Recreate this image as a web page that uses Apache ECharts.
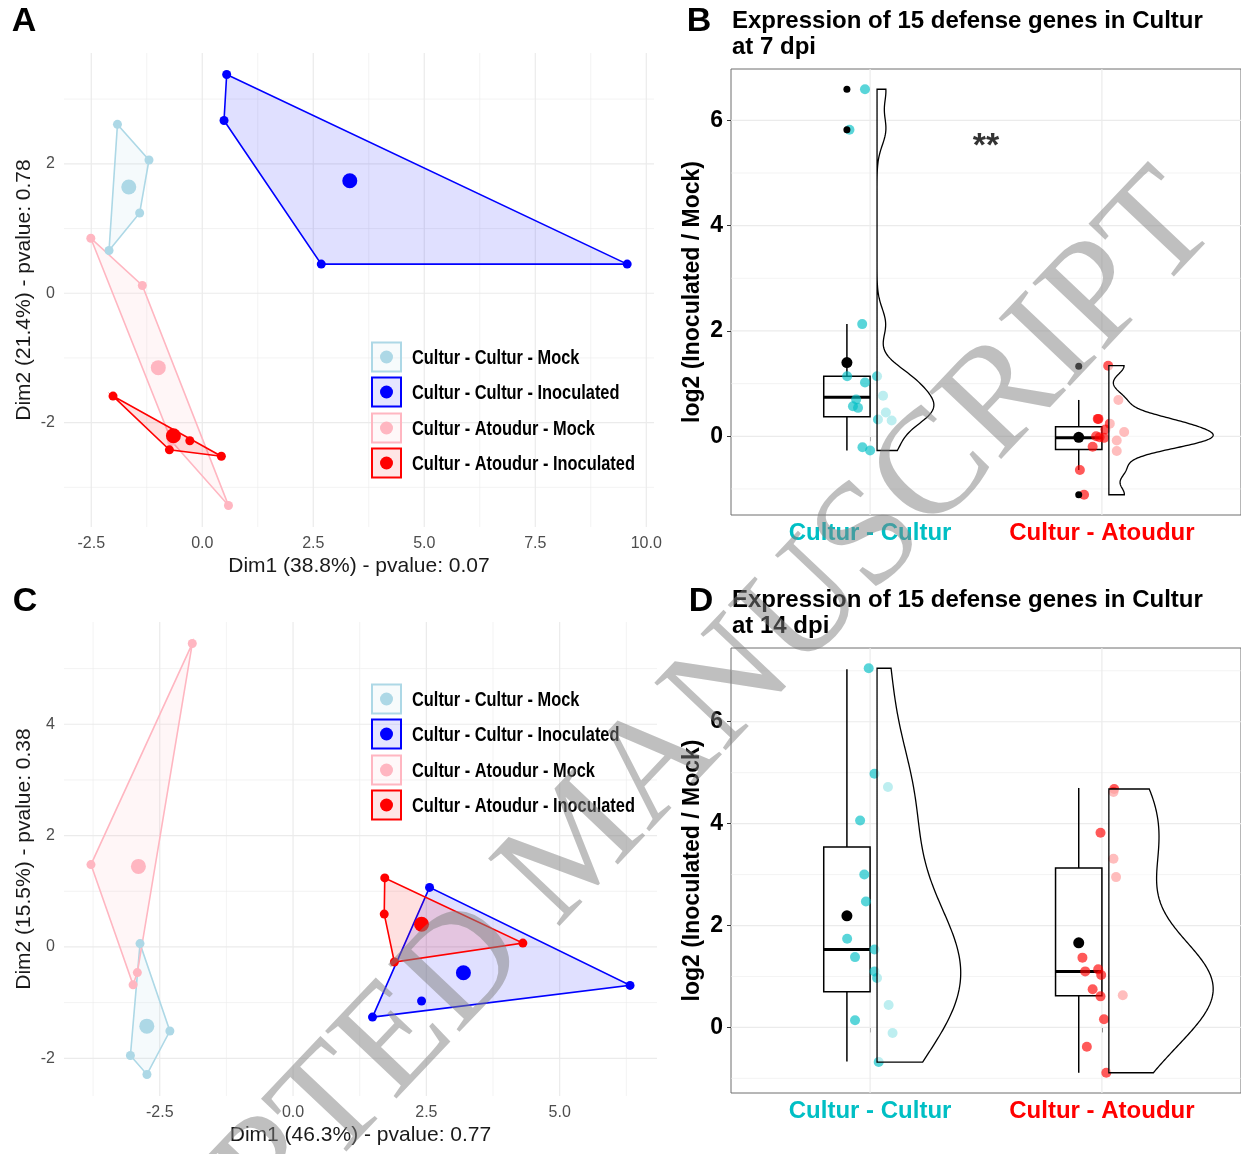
<!DOCTYPE html>
<html><head><meta charset="utf-8">
<script src="https://cdn.jsdelivr.net/npm/echarts@6/dist/echarts.min.js"></script>
<style>html,body{margin:0;padding:0;background:#fff}#main{width:1241px;height:1154px}</style>
</head><body><div id="main"></div>
<script>
// ================= DATA =================
const groupNames = ['Cultur - Cultur - Mock','Cultur - Cultur - Inoculated','Cultur - Atoudur - Mock','Cultur - Atoudur - Inoculated'];
const groupColors = ['#ADD8E6','#0000FF','#FFB6C1','#FF0000'];

// Panel A : PCA 7 dpi, [Dim1, Dim2]
const pcaA_ccMock = [[-1.91,2.61],[-1.20,2.06],[-1.41,1.24],[-2.10,0.66]];
const pcaA_ccInoc = [[0.55,3.38],[0.49,2.67],[2.68,0.45],[9.57,0.45]];
const pcaA_caMock = [[-2.51,0.85],[-1.35,0.12],[0.59,-3.28],[-0.69,-2.29]];
const pcaA_caInoc = [[-2.01,-1.59],[-0.28,-2.28],[0.43,-2.52],[-0.74,-2.42]];
const axisTitlesA = ['Dim1 (38.8%) - pvalue: 0.07','Dim2 (21.4%) - pvalue: 0.78'];
const xTicksA = [-2.5,0,2.5,5,7.5,10];
const yTicksA = [-2,0,2];

// Panel C : PCA 14 dpi
const pcaC_ccMock = [[-2.87,0.06],[-2.31,-1.51],[-2.74,-2.29],[-3.05,-1.95]];
const pcaC_ccInoc = [[2.56,1.07],[6.32,-0.69],[1.49,-1.26],[2.41,-0.97]];
const pcaC_caMock = [[-1.89,5.45],[-3.79,1.48],[-3.00,-0.68],[-2.92,-0.46]];
const pcaC_caInoc = [[1.72,1.24],[1.71,0.59],[1.90,-0.27],[4.31,0.07]];
const axisTitlesC = ['Dim1 (46.3%) - pvalue: 0.77','Dim2 (15.5%) - pvalue: 0.38'];
const xTicksC = [-2.5,0,2.5,5];
const yTicksC = [-2,0,2,4];

// Panels B / D : log2 (Inoculated / Mock), 15 genes per group
const rainCategories = ['Cultur - Cultur','Cultur - Atoudur'];
const rainColors = ['#00BFC4','#FF0000'];
const b7_cc = [6.59,5.82,2.13,1.14,1.02,1.14,0.77,0.57,0.54,0.45,0.32,0.30,-0.21,-0.27,0.70];
const b7_cc_jitter = [-0.022,-0.089,-0.034,-0.099,-0.022,0.030,0.056,-0.074,-0.052,0.068,0.034,0.093,-0.033,0.0,-0.06];
const b7_ca = [1.34,0.69,0.33,0.24,0.13,0.08,0.0,-0.03,-0.08,-0.20,-0.28,-0.64,-1.11,-0.02,0.33];
const b7_ca_jitter = [0.027,0.071,-0.018,0.034,0.015,0.096,-0.025,0.009,0.064,-0.04,0.064,-0.095,-0.077,-0.01,-0.015];
const boxB = [[-0.27,0.37,0.74,1.14,2.13],[-0.64,-0.25,-0.03,0.18,0.69]]; // low, q1, median, q3, high
const meansB = [1.40,-0.02];
const outliersB = [[1,6.59],[1,5.82],[2,1.33],[2,-1.11]];
const signifB = [[1.5,5.50,'**']];
const titleB = ['Expression of 15 defense genes in Cultur','at 7 dpi'];

const d14_cc = [7.05,4.98,4.72,4.06,3.00,2.47,1.74,1.38,1.53,1.10,0.97,0.44,0.14,-0.11,-0.68];
const d14_cc_jitter = [-0.006,0.019,0.077,-0.043,-0.025,-0.018,-0.099,-0.065,0.019,0.019,0.030,0.080,-0.065,0.097,0.037];
const d14_ca = [4.68,4.62,3.82,3.31,2.95,1.37,1.10,1.14,1.03,0.75,0.61,0.63,0.16,-0.38,-0.89];
const d14_ca_jitter = [0.053,0.05,-0.006,0.05,0.061,-0.084,-0.072,-0.016,-0.003,-0.04,-0.006,0.09,0.009,-0.065,0.019];
const boxD = [[-0.67,0.70,1.53,3.54,7.03],[-0.89,0.62,1.10,3.13,4.70]];
const meansD = [2.19,1.66];
const outliersD = [];
const titleD = ['Expression of 15 defense genes in Cultur','at 14 dpi'];
const yTitleRain = 'log2 (Inoculated / Mock)';
const yTicksRain = [0,2,4,6];
const panelLetters = ['A','B','C','D'];
const watermark = 'ACCEPTED MANUSCRIPT';

// ================= HELPERS =================
function expand(vals){const mn=Math.min(...vals),mx=Math.max(...vals),d=(mx-mn)*0.05;return [mn-d,mx+d];}
function rgba(hex,a){const n=parseInt(hex.slice(1),16);return `rgba(${n>>16&255},${n>>8&255},${n&255},${a})`;}
function hull(pts){
  const p=pts.slice().sort((a,b)=>a[0]-b[0]||a[1]-b[1]);
  const cross=(o,a,b)=>(a[0]-o[0])*(b[1]-o[1])-(a[1]-o[1])*(b[0]-o[0]);
  const lo=[],up=[];
  for(const q of p){while(lo.length>=2&&cross(lo[lo.length-2],lo[lo.length-1],q)<=0)lo.pop();lo.push(q);}
  for(let i=p.length-1;i>=0;i--){const q=p[i];while(up.length>=2&&cross(up[up.length-2],up[up.length-1],q)<=0)up.pop();up.push(q);}
  up.pop();lo.pop();return lo.concat(up);
}
function centroid(pts){return [pts.reduce((s,p)=>s+p[0],0)/pts.length, pts.reduce((s,p)=>s+p[1],0)/pts.length];}
function quant(sorted,q){const h=(sorted.length-1)*q,l=Math.floor(h);return sorted[l]+(h-l)*((sorted[Math.min(l+1,sorted.length-1)])-sorted[l]);}
function kde(vals){
  const n=vals.length,m=vals.reduce((a,b)=>a+b,0)/n;
  const sd=Math.sqrt(vals.reduce((s,v)=>s+(v-m)*(v-m),0)/(n-1));
  const s=vals.slice().sort((a,b)=>a-b);
  const iqr=quant(s,0.75)-quant(s,0.25);
  const bw=0.9*Math.min(sd,iqr/1.34)*Math.pow(n,-0.2);
  const lo=s[0],hi=s[n-1],N=200,out=[];
  for(let i=0;i<=N;i++){const y=lo+(hi-lo)*i/N;let d=0;for(const v of vals){const z=(y-v)/bw;d+=Math.exp(-0.5*z*z);}out.push([y,d/(n*bw*Math.sqrt(2*Math.PI))]);}
  return out;
}

// ================= LAYOUT =================
const grids = [
  {left:64, top:53, width:590, height:474},
  {left:731, top:69, width:512, height:446, show:true, borderColor:'#6e6e6e', borderWidth:1, backgroundColor:'transparent'},
  {left:64, top:622, width:593, height:474},
  {left:731, top:648, width:512, height:445, show:true, borderColor:'#6e6e6e', borderWidth:1, backgroundColor:'transparent'}
];

const pcaA = [pcaA_ccMock,pcaA_ccInoc,pcaA_caMock,pcaA_caInoc];
const pcaC = [pcaC_ccMock,pcaC_ccInoc,pcaC_caMock,pcaC_caInoc];
const allA = pcaA.flat(), allC = pcaC.flat();
const xrA = expand(allA.map(p=>p[0])), yrA = expand(allA.map(p=>p[1]));
const xrC = expand(allC.map(p=>p[0])), yrC = expand(allC.map(p=>p[1]));
const yrB = expand(b7_cc.concat(b7_ca)), yrD = expand(d14_cc.concat(d14_ca));
const xrR = [0.4,2.6];

function pcaX(gi, xr, ticks, title){
  return {gridIndex:gi,type:'value',min:xr[0],max:xr[1],axisLine:{show:false},axisTick:{show:false},splitLine:{show:false},
    axisLabel:{customValues:ticks,formatter:v=>Number(v).toFixed(1),color:'#4d4d4d',fontSize:16,margin:9},
    name:title,nameLocation:'middle',nameGap:29,nameTextStyle:{fontSize:21,color:'#1a1a1a'}};
}
function pcaY(gi, yr, ticks, title){
  return {gridIndex:gi,type:'value',min:yr[0],max:yr[1],axisLine:{show:false},axisTick:{show:false},splitLine:{show:false},
    axisLabel:{customValues:ticks,formatter:v=>String(Math.round(v)),color:'#4d4d4d',fontSize:16,margin:9},
    name:title,nameLocation:'middle',nameGap:29,nameRotate:90,nameTextStyle:{fontSize:21,color:'#1a1a1a'}};
}
function rainX(gi, margin){
  return {gridIndex:gi,type:'value',min:xrR[0],max:xrR[1],axisLine:{show:false},splitLine:{show:false},
    axisTick:{show:true,customValues:[1,2],length:5,lineStyle:{color:'#333'}},
    axisLabel:{customValues:[1,2],margin:margin,formatter:v=>{const i=Math.round(v)-1;return '{c'+i+'|'+rainCategories[i]+'}';},
      rich:{c0:{color:rainColors[0],fontSize:24,fontWeight:'bold'},c1:{color:rainColors[1],fontSize:24,fontWeight:'bold'}}}};
}
function rainY(gi, yr){
  return {gridIndex:gi,type:'value',min:yr[0],max:yr[1],axisLine:{show:false},splitLine:{show:false},
    axisTick:{show:true,customValues:yTicksRain,length:4,lineStyle:{color:'#333'}},
    axisLabel:{customValues:yTicksRain,formatter:v=>String(Math.round(v)),color:'#000',fontSize:23,fontWeight:'bold',margin:8},
    name:yTitleRain,nameLocation:'middle',nameGap:27,nameRotate:90,nameTextStyle:{fontSize:23,fontWeight:'bold',color:'#000'}};
}

// grid line custom series
function gridLineSeries(gi, xr, yr, xMaj, xMin, yMaj, yMin){
  const lines=[];
  xMin.forEach(v=>lines.push([0,v,0]));yMin.forEach(v=>lines.push([1,v,0]));
  xMaj.forEach(v=>lines.push([0,v,1]));yMaj.forEach(v=>lines.push([1,v,1]));
  return {type:'custom',xAxisIndex:gi,yAxisIndex:gi,silent:true,z:1,
    data:lines.map(()=>[xr[0],yr[0]]),
    renderItem:(p,api)=>{const l=lines[p.dataIndex];
      const a=l[0]===0?api.coord([l[1],yr[0]]):api.coord([xr[0],l[1]]);
      const b=l[0]===0?api.coord([l[1],yr[1]]):api.coord([xr[1],l[1]]);
      return {type:'line',shape:{x1:a[0],y1:a[1],x2:b[0],y2:b[1]},style:{stroke:'#ebebeb',lineWidth:l[2]?1.2:0.6}};}};
}

const series=[];
// ---- PCA panels ----
function addPCA(gi, groups, xr, yr){
  groups.forEach((pts,k)=>{
    series.push({type:'custom',xAxisIndex:gi,yAxisIndex:gi,silent:true,z:2,data:[[xr[0],yr[0]]],
      renderItem:(p,api)=>({type:'polygon',shape:{points:hull(pts).map(q=>api.coord(q))},
        style:{fill:rgba(groupColors[k],0.12),stroke:groupColors[k],lineWidth:1.6}})});
  });
  groups.forEach((pts,k)=>{
    series.push({type:'scatter',xAxisIndex:gi,yAxisIndex:gi,silent:true,z:3,symbolSize:9,data:pts,itemStyle:{color:groupColors[k],opacity:1}});
    series.push({type:'scatter',xAxisIndex:gi,yAxisIndex:gi,silent:true,z:3,symbolSize:15,data:[centroid(pts)],itemStyle:{color:groupColors[k],opacity:1}});
  });
}
series.push(gridLineSeries(0,xrA,yrA,xTicksA,[-1.25,1.25,3.75,6.25,8.75],yTicksA,[-3,-1,1,3]));
series.push(gridLineSeries(2,xrC,yrC,xTicksC,[-3.75,-1.25,1.25,3.75,6.25],yTicksC,[-1,1,3,5]));
addPCA(0,pcaA,xrA,yrA);
addPCA(2,pcaC,xrC,yrC);

// ---- raincloud panels ----
function addRain(gi, groups, jitters, boxes, means, outliers, yr){
  series.push(gridLineSeries(gi,xrR,yr,[1,2],[],yTicksRain,[-1,1,3,5,7].filter(v=>v>yr[0]&&v<yr[1])));
  series.push({type:'custom',xAxisIndex:gi,yAxisIndex:gi,silent:true,z:2,data:boxes.map((b,i)=>[i+1,b[2]]),
    renderItem:(p,api)=>{const i=p.dataIndex,c=i+1,s=boxes[i];
      const tl=api.coord([c-0.2,s[3]]),br=api.coord([c,s[1]]);
      const m1=api.coord([c-0.2,s[2]]),m2=api.coord([c,s[2]]);
      const w1=api.coord([c-0.1,s[3]]),w2=api.coord([c-0.1,s[4]]),w3=api.coord([c-0.1,s[1]]),w4=api.coord([c-0.1,s[0]]);
      return {type:'group',children:[
        {type:'line',shape:{x1:w1[0],y1:w1[1],x2:w2[0],y2:w2[1]},style:{stroke:'#000',lineWidth:1.5}},
        {type:'line',shape:{x1:w3[0],y1:w3[1],x2:w4[0],y2:w4[1]},style:{stroke:'#000',lineWidth:1.5}},
        {type:'rect',shape:{x:tl[0],y:tl[1],width:br[0]-tl[0],height:br[1]-tl[1]},style:{fill:'none',stroke:'#000',lineWidth:1.5}},
        {type:'line',shape:{x1:m1[0],y1:m1[1],x2:m2[0],y2:m2[1]},style:{stroke:'#000',lineWidth:3}}
      ]};}});
  groups.forEach((vals,i)=>{
    series.push({type:'scatter',xAxisIndex:gi,yAxisIndex:gi,silent:true,z:3,symbolSize:10,
      data:vals.map((v,j)=>[i+1+jitters[i][j],v]),itemStyle:{color:rainColors[i],opacity:0.65}});
  });
  series.push({type:'scatter',xAxisIndex:gi,yAxisIndex:gi,silent:true,z:4,symbolSize:7,data:outliers.map(o=>[o[0]-0.1,o[1]]),itemStyle:{color:'#000',opacity:1}});
  series.push({type:'scatter',xAxisIndex:gi,yAxisIndex:gi,silent:true,z:4,symbolSize:11,data:means.map((m,i)=>[i+1-0.1,m]),itemStyle:{color:'#000',opacity:1}});
  const dens=groups.map(kde);
  const maxD=Math.max(...dens.map(d=>Math.max(...d.map(q=>q[1]))));
  series.push({type:'custom',xAxisIndex:gi,yAxisIndex:gi,silent:true,z:5,data:groups.map((g,i)=>[i+1,0]),
    renderItem:(p,api)=>{const i=p.dataIndex,c=i+1+0.03,d=dens[i];
      const pts=[api.coord([c,d[0][0]])];
      d.forEach(q=>pts.push(api.coord([c+q[1]/maxD*0.45,q[0]])));
      pts.push(api.coord([c,d[d.length-1][0]]));
      return {type:'polygon',shape:{points:pts},style:{fill:'rgba(255,255,255,0.6)',stroke:'#000',lineWidth:1.3}};}});
}
addRain(1,[b7_cc,b7_ca],[b7_cc_jitter,b7_ca_jitter],boxB,meansB,outliersB,yrB);
addRain(3,[d14_cc,d14_ca],[d14_cc_jitter,d14_ca_jitter],boxD,meansD,outliersD,yrD);
series.push({type:'scatter',xAxisIndex:1,yAxisIndex:1,silent:true,z:6,symbolSize:0,data:signifB.map(s=>[s[0],s[1]]),
  label:{show:true,position:'inside',formatter:p=>signifB[p.dataIndex][2],fontSize:34,fontWeight:'bold',color:'#000'}});

// ================= GRAPHICS (titles, legends, watermark) =================
const graphic=[];
const letterPos=[[24,22],[699,22],[25,602],[701,602]];
panelLetters.forEach((t,i)=>graphic.push({type:'text',x:letterPos[i][0],y:letterPos[i][1],z:50,
  style:{text:t,font:'bold 34px "Liberation Sans", Arial, sans-serif',fill:'#000',align:'center',verticalAlign:'middle'}}));
[[titleB,21],[titleD,600]].forEach(([tt,y0])=>tt.forEach((t,j)=>graphic.push({type:'text',x:732,y:y0+j*26,z:50,
  style:{text:t,font:'bold 24px "Liberation Sans", Arial, sans-serif',fill:'#000',verticalAlign:'middle'}})));
function legend(cys){
  groupNames.forEach((nm,k)=>{const cy=cys[k],col=groupColors[k];
    graphic.push({type:'rect',z:40,shape:{x:372,y:cy-14.5,width:29,height:29},style:{fill:rgba(col,0.1),stroke:col,lineWidth:2}});
    graphic.push({type:'circle',z:41,shape:{cx:386.5,cy:cy,r:6.5},style:{fill:col}});
    graphic.push({type:'text',z:41,x:412,y:cy+1,scaleX:0.78,style:{text:nm,font:'bold 21px "Liberation Sans", Arial, sans-serif',fill:'#000',verticalAlign:'middle'}});
  });
}
legend([357,392,428,463]);
legend([699,734,770,805]);
graphic.push({type:'text',x:581,y:846,rotation:46.6*Math.PI/180,z:100,silent:true,
  style:{text:watermark,font:'150px "Liberation Serif", "DejaVu Serif", serif',fill:'rgba(128,128,128,0.5)',align:'center',verticalAlign:'middle'}});

const chart=echarts.init(document.getElementById('main'),null,{renderer:'canvas'});
chart.setOption({
  animation:false,
  textStyle:{fontFamily:'"Liberation Sans", Arial, sans-serif'},
  grid:grids,
  xAxis:[pcaX(0,xrA,xTicksA,axisTitlesA[0]),rainX(1,6),pcaX(2,xrC,xTicksC,axisTitlesC[0]),rainX(3,6)],
  yAxis:[pcaY(0,yrA,yTicksA,axisTitlesA[1]),rainY(1,yrB),pcaY(2,yrC,yTicksC,axisTitlesC[1]),rainY(3,yrD)],
  series:series,
  graphic:graphic
});
</script></body></html>
